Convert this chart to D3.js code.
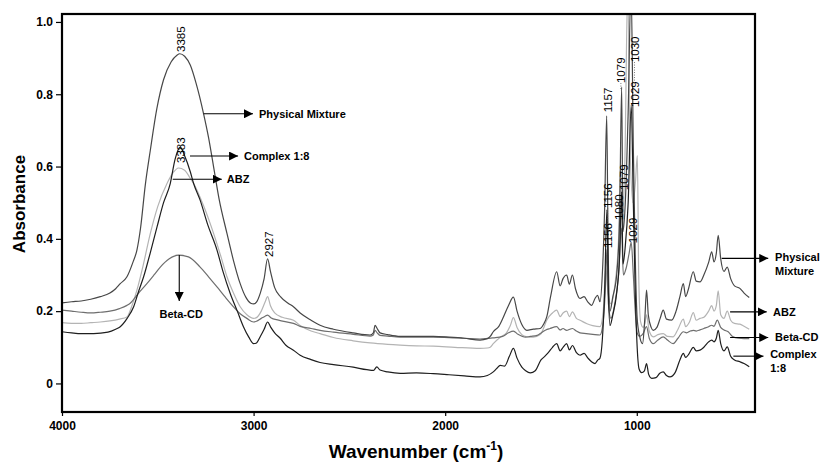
<!DOCTYPE html>
<html><head><meta charset="utf-8">
<script src="https://cdn.jsdelivr.net/npm/d3@7"></script>
<style>body{margin:0;background:#fff}svg{display:block;font-family:"Liberation Sans",Arial,sans-serif}</style>
</head><body><svg id="c" width="820" height="466"></svg>
<script>
// ---------- DATA (wavenumber cm-1, absorbance) ----------
const seriesNames = ["ABZ", "Beta-CD", "Physical Mixture", "Complex 1:8"];
const seriesColors = ["#b4b4b4", "#6e6e6e", "#474747", "#1e1e1e"];

const abzData = [[4000,0.168],[3950,0.166],[3900,0.166],[3850,0.168],[3800,0.17],[3750,0.173],[3700,0.178],[3661,0.184],[3635,0.215],[3609,0.258],[3575,0.33],[3539,0.415],[3500,0.49],[3452,0.553],[3420,0.583],[3392,0.596],[3360,0.59],[3330,0.567],[3313,0.553],[3260,0.49],[3209,0.415],[3170,0.35],[3139,0.295],[3105,0.25],[3070,0.212],[3035,0.19],[3000,0.18],[2985,0.182],[2960,0.2],[2940,0.225],[2927,0.24],[2912,0.215],[2890,0.195],[2850,0.183],[2792,0.175],[2757,0.16],[2700,0.145],[2653,0.138],[2583,0.127],[2480,0.118],[2392,0.112],[2300,0.108],[2235,0.106],[2150,0.104],[2062,0.103],[1950,0.1],[1818,0.097],[1780,0.098],[1765,0.1],[1749,0.11],[1713,0.128],[1680,0.14],[1660,0.16],[1644,0.182],[1625,0.155],[1600,0.135],[1574,0.129],[1540,0.128],[1504,0.135],[1485,0.155],[1470,0.175],[1440,0.195],[1418,0.203],[1400,0.185],[1385,0.195],[1366,0.2],[1352,0.185],[1336,0.198],[1315,0.18],[1296,0.175],[1260,0.165],[1230,0.16],[1192,0.157],[1175,0.2],[1162,0.32],[1150,0.25],[1135,0.22],[1115,0.27],[1095,0.4],[1085,0.6],[1075,0.45],[1062,0.62],[1047,1.1],[1037,0.7],[1020,0.5],[1008,0.55],[997,0.63],[990,0.3],[980,0.17],[967,0.155],[958,0.165],[949,0.19],[935,0.145],[914,0.129],[890,0.135],[862,0.138],[840,0.13],[810,0.129],[785,0.15],[757,0.178],[745,0.157],[725,0.17],[705,0.196],[690,0.175],[670,0.18],[650,0.183],[625,0.2],[609,0.215],[597,0.2],[585,0.215],[575,0.256],[562,0.19],[545,0.18],[528,0.2],[510,0.175],[490,0.166],[462,0.164],[440,0.158],[413,0.15]];

const betaCdData = [[4000,0.203],[3950,0.2],[3900,0.197],[3850,0.195],[3800,0.197],[3750,0.2],[3700,0.207],[3661,0.216],[3644,0.222],[3600,0.25],[3557,0.276],[3520,0.3],[3487,0.322],[3440,0.345],[3392,0.355],[3340,0.35],[3279,0.322],[3235,0.295],[3191,0.267],[3150,0.24],[3105,0.212],[3070,0.193],[3035,0.18],[3000,0.17],[2985,0.172],[2960,0.18],[2940,0.186],[2927,0.189],[2910,0.182],[2870,0.175],[2792,0.166],[2757,0.158],[2700,0.152],[2653,0.147],[2583,0.142],[2480,0.136],[2392,0.131],[2375,0.134],[2366,0.147],[2355,0.14],[2340,0.133],[2300,0.131],[2235,0.128],[2150,0.128],[2062,0.128],[1980,0.127],[1900,0.125],[1818,0.123],[1750,0.126],[1700,0.13],[1670,0.14],[1644,0.145],[1620,0.136],[1580,0.128],[1556,0.13],[1520,0.133],[1504,0.138],[1475,0.148],[1453,0.152],[1418,0.157],[1400,0.148],[1385,0.152],[1366,0.147],[1350,0.15],[1336,0.152],[1315,0.145],[1296,0.14],[1264,0.138],[1230,0.136],[1192,0.134],[1178,0.16],[1165,0.25],[1156,0.37],[1148,0.22],[1135,0.18],[1115,0.22],[1095,0.3],[1080,0.43],[1070,0.3],[1055,0.32],[1040,0.36],[1029,0.39],[1018,0.3],[1008,0.2],[998,0.14],[985,0.13],[967,0.138],[949,0.157],[935,0.125],[914,0.11],[890,0.12],[862,0.129],[840,0.12],[810,0.11],[785,0.125],[757,0.143],[740,0.14],[720,0.145],[705,0.147],[690,0.145],[670,0.148],[650,0.152],[625,0.157],[609,0.161],[597,0.158],[580,0.175],[562,0.155],[545,0.148],[523,0.143],[500,0.13],[470,0.125],[440,0.124],[413,0.124]];

const pmData = [[4000,0.223],[3950,0.226],[3900,0.228],[3850,0.233],[3800,0.24],[3750,0.25],[3720,0.262],[3696,0.276],[3661,0.295],[3630,0.335],[3609,0.369],[3590,0.43],[3565,0.55],[3539,0.645],[3505,0.76],[3470,0.84],[3430,0.89],[3400,0.908],[3385,0.912],[3360,0.905],[3330,0.88],[3300,0.83],[3261,0.746],[3235,0.68],[3209,0.6],[3180,0.51],[3139,0.415],[3105,0.34],[3070,0.276],[3040,0.238],[3015,0.222],[3000,0.22],[2985,0.225],[2965,0.25],[2945,0.29],[2927,0.345],[2912,0.31],[2890,0.265],[2860,0.24],[2820,0.222],[2792,0.212],[2757,0.195],[2700,0.175],[2653,0.161],[2583,0.15],[2480,0.14],[2392,0.134],[2375,0.14],[2366,0.161],[2355,0.152],[2340,0.14],[2300,0.135],[2235,0.13],[2150,0.13],[2062,0.13],[1980,0.128],[1900,0.125],[1818,0.12],[1780,0.124],[1765,0.13],[1749,0.143],[1720,0.158],[1696,0.184],[1670,0.215],[1644,0.239],[1625,0.2],[1600,0.163],[1574,0.147],[1540,0.15],[1504,0.152],[1485,0.165],[1470,0.184],[1450,0.24],[1418,0.309],[1400,0.27],[1385,0.29],[1366,0.3],[1352,0.275],[1336,0.3],[1320,0.262],[1296,0.235],[1275,0.24],[1255,0.225],[1236,0.216],[1218,0.235],[1205,0.244],[1192,0.226],[1180,0.3],[1168,0.48],[1157,0.74],[1150,0.4],[1140,0.2],[1125,0.24],[1105,0.3],[1090,0.45],[1079,0.82],[1072,0.42],[1060,0.5],[1045,0.75],[1030,1.1],[1018,0.65],[1008,0.35],[998,0.18],[985,0.13],[970,0.11],[958,0.18],[949,0.258],[940,0.19],[925,0.155],[914,0.147],[895,0.155],[878,0.18],[862,0.203],[845,0.178],[818,0.175],[795,0.2],[775,0.24],[757,0.276],[745,0.24],[730,0.262],[705,0.309],[690,0.283],[670,0.281],[650,0.3],[625,0.335],[609,0.364],[597,0.336],[585,0.36],[575,0.41],[562,0.345],[545,0.31],[528,0.322],[510,0.29],[490,0.27],[462,0.263],[440,0.25],[413,0.238]];

const complexData = [[4000,0.143],[3950,0.14],[3900,0.138],[3835,0.138],[3760,0.142],[3720,0.15],[3696,0.157],[3660,0.18],[3626,0.212],[3600,0.255],[3574,0.295],[3540,0.36],[3504,0.433],[3470,0.5],[3435,0.553],[3410,0.62],[3383,0.654],[3360,0.63],[3330,0.585],[3313,0.553],[3279,0.507],[3240,0.44],[3191,0.369],[3160,0.31],[3122,0.249],[3085,0.2],[3053,0.157],[3025,0.128],[3000,0.11],[2985,0.112],[2965,0.13],[2945,0.15],[2927,0.17],[2910,0.155],[2890,0.14],[2861,0.125],[2830,0.105],[2792,0.092],[2757,0.078],[2700,0.066],[2653,0.058],[2583,0.052],[2480,0.045],[2409,0.038],[2374,0.036],[2357,0.046],[2340,0.037],[2300,0.032],[2235,0.028],[2150,0.029],[2062,0.027],[1980,0.024],[1900,0.021],[1818,0.018],[1780,0.022],[1749,0.032],[1730,0.042],[1713,0.05],[1690,0.048],[1665,0.075],[1644,0.097],[1625,0.07],[1600,0.045],[1580,0.035],[1556,0.029],[1530,0.035],[1500,0.065],[1480,0.075],[1462,0.085],[1440,0.1],[1418,0.11],[1400,0.09],[1385,0.1],[1366,0.11],[1352,0.093],[1336,0.105],[1315,0.085],[1296,0.078],[1275,0.083],[1255,0.07],[1236,0.06],[1218,0.055],[1205,0.064],[1192,0.07],[1180,0.12],[1168,0.25],[1156,0.48],[1148,0.25],[1140,0.16],[1125,0.19],[1105,0.25],[1090,0.35],[1079,0.53],[1072,0.33],[1060,0.38],[1045,0.5],[1029,0.77],[1018,0.5],[1008,0.25],[998,0.1],[988,0.04],[975,0.03],[960,0.035],[949,0.055],[938,0.025],[922,0.014],[900,0.016],[880,0.028],[862,0.032],[845,0.022],[827,0.018],[800,0.03],[775,0.065],[757,0.083],[745,0.072],[730,0.08],[705,0.1],[690,0.09],[670,0.092],[650,0.1],[625,0.115],[609,0.12],[597,0.115],[585,0.125],[575,0.147],[562,0.11],[545,0.09],[528,0.101],[510,0.075],[490,0.065],[462,0.06],[440,0.055],[413,0.046]];

const xTickValues = [4000, 3000, 2000, 1000];
const xTickLabels = ["4000", "3000", "2000", "1000"];
const yTickValues = [0, 0.2, 0.4, 0.6, 0.8, 1.0];
const yTickLabels = ["0", "0.2", "0.4", "0.6", "0.8", "1.0"];

// peak labels: text, wavenumber of label column, absorbance at label's lower end
const peakLabels = [
  ["3385", 3380, 0.917], ["3383", 3380, 0.61], ["2927", 2918, 0.35],
  ["1157", 1150, 0.75], ["1079", 1083, 0.831], ["1030", 1012, 0.889], ["1029", 1012, 0.765],
  ["1156", 1152, 0.485], ["1079", 1068, 0.535], ["1080", 1093, 0.452],
  ["1156", 1152, 0.375], ["1029", 1022, 0.388]
];
// dotted leaders between stacked labels: wavenumber, absorbance from, to
const leaderLines = [[1012, 0.889, 0.83], [1152, 0.485, 0.43], [1083, 0.831, 0.81]];

// arrow notes: lines of text, arrow from [w,a], arrow to [w,a], text start [w,a], first-line offset (px)
const arrowNotes = [
  {lines: ["Physical Mixture"], from: [3261, 0.746], to: [3003, 0.746], at: [2972, 0.746], off: 0},
  {lines: ["Complex 1:8"], from: [3332, 0.629], to: [3081, 0.629], at: [3050, 0.629], off: 0},
  {lines: ["ABZ"], from: [3422, 0.565], to: [3166, 0.565], at: [3140, 0.565], off: 0},
  {lines: ["Physical", "Mixture"], from: [557, 0.346], to: [314, 0.346], at: [278, 0.346], off: -1},
  {lines: ["ABZ"], from: [513, 0.198], to: [322, 0.198], at: [289, 0.198], off: 0},
  {lines: ["Beta-CD"], from: [513, 0.127], to: [314, 0.127], at: [278, 0.127], off: 0},
  {lines: ["Complex", "1:8"], from: [496, 0.0755], to: [339, 0.0755], at: [304, 0.0755], off: -2}
];
const betaNote = {text: "Beta-CD", from: [3388, 0.355], to: [3388, 0.228], at: [3378, 0.193]};

// ---------- CHART ----------
const svg = d3.select("#c");
const L = 62, R = 755, T = 14, B = 412;
const x = d3.scaleLinear().domain([4000, 383]).range([L, R]);
const y = d3.scaleLinear().domain([-0.079, 1.022]).range([B, T]);

const defs = svg.append("defs");
defs.append("clipPath").attr("id", "clip").append("rect")
  .attr("x", L).attr("y", T).attr("width", R - L).attr("height", B - T);
defs.append("marker").attr("id", "ah").attr("markerUnits", "userSpaceOnUse")
  .attr("markerWidth", 10).attr("markerHeight", 9).attr("refX", 9).attr("refY", 4.5)
  .attr("orient", "auto").append("path").attr("d", "M0,0L9,4.5L0,9Z").attr("fill", "#000");

const line = d3.line().x(d => x(d[0])).y(d => y(d[1])).curve(d3.curveMonotoneX);
const all = [abzData, betaCdData, pmData, complexData];
const gLines = svg.append("g").attr("clip-path", "url(#clip)");
all.forEach((data, i) => {
  gLines.append("path").datum(data).attr("d", line).attr("fill", "none")
    .attr("stroke", seriesColors[i]).attr("stroke-width", 1.2).attr("stroke-linejoin", "round");
});

// axes
const yAxis = d3.axisLeft(y).tickValues(yTickValues).tickSize(6).tickSizeOuter(0).tickPadding(3)
  .tickFormat((d, i) => yTickLabels[i]);
const gy = svg.append("g").attr("transform", `translate(${L},0)`).call(yAxis);
const xAxis = d3.axisBottom(x).tickValues(xTickValues).tickSize(4).tickSizeOuter(0).tickPadding(5)
  .tickFormat((d, i) => xTickLabels[i]);
const gx = svg.append("g").attr("transform", `translate(0,${B})`).call(xAxis);
[gx, gy].forEach(g => {
  g.select(".domain").remove();
  g.selectAll("line").attr("stroke", "#000").attr("stroke-width", 1.2);
  g.selectAll("text").attr("fill", "#000").attr("font-size", 12).attr("font-weight", "bold")
    .attr("font-family", "'Liberation Sans', Arial, sans-serif");
});
svg.append("rect").attr("x", L).attr("y", T).attr("width", R - L).attr("height", B - T)
  .attr("fill", "none").attr("stroke", "#000").attr("stroke-width", 2.2);

// peak labels
const gp = svg.append("g").attr("font-size", 11.5).attr("fill", "#000");
peakLabels.forEach(p => {
  gp.append("text").attr("transform", `translate(${x(p[1])},${y(p[2])}) rotate(-90)`)
    .attr("dy", "0.36em").text(p[0]);
});
leaderLines.forEach(l => {
  svg.append("line").attr("x1", x(l[0])).attr("x2", x(l[0])).attr("y1", y(l[1])).attr("y2", y(l[2]))
    .attr("stroke", "#555").attr("stroke-width", 0.8).attr("stroke-dasharray", "1,1.5");
});

// arrow notes
const gn = svg.append("g").attr("font-size", 11).attr("font-weight", "bold").attr("fill", "#000");
arrowNotes.forEach(n => {
  svg.append("line").attr("x1", x(n.from[0])).attr("y1", y(n.from[1]))
    .attr("x2", x(n.to[0])).attr("y2", y(n.to[1])).attr("stroke", "#000").attr("stroke-width", 1.1)
    .attr("marker-end", "url(#ah)");
  n.lines.forEach((t, k) => {
    gn.append("text").attr("x", x(n.at[0])).attr("y", y(n.at[1]) + n.off + k * 14)
      .attr("dy", "0.35em").text(t);
  });
});
svg.append("line").attr("x1", x(betaNote.from[0])).attr("y1", y(betaNote.from[1]))
  .attr("x2", x(betaNote.to[0])).attr("y2", y(betaNote.to[1])).attr("stroke", "#000")
  .attr("stroke-width", 1.1).attr("marker-end", "url(#ah)");
gn.append("text").attr("x", x(betaNote.at[0])).attr("y", y(betaNote.at[1]))
  .attr("dy", "0.35em").attr("text-anchor", "middle").text(betaNote.text);

// axis titles
svg.append("text").attr("transform", `translate(19,204) rotate(-90)`)
  .attr("text-anchor", "middle").attr("dy", "0.35em").attr("font-size", 17).attr("font-weight", "bold")
  .text("Absorbance");
const xt = svg.append("text").attr("x", 416).attr("y", 458).attr("text-anchor", "middle")
  .attr("font-size", 19).attr("font-weight", "bold");
xt.append("tspan").text("Wavenumber (cm");
xt.append("tspan").attr("font-size", 12).attr("dy", -8).text("-1");
xt.append("tspan").attr("dy", 8).text(")");
</script></body></html>
